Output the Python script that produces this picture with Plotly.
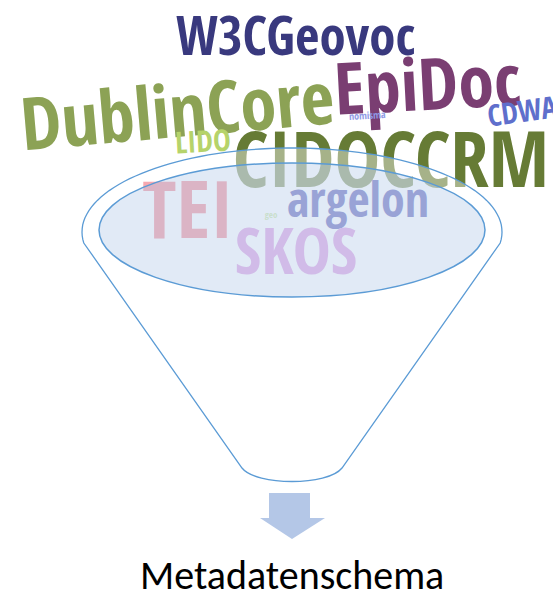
import numpy as np
import plotly.graph_objects as go

# ---- word cloud data ----
words = ["W3CGeovoc", "EpiDoc", "DublinCore", "CDWA", "CIDOCCRM", "LIDO",
         "nomisma", "TEI", "argelon", "SKOS", "geo"]
weights = [53, 72, 73, 30, 77, 30, 10, 79, 48, 64, 9]
word_colors = ["#39397e", "#7a3e72", "#8ca255", "#5f6fcc", "#667b35", "#b6d36a",
               "#8f9ae6", "#f06a78", "#3a3ca5", "#d27fd8", "#bde08a"]
# layout of the cloud (pixel coordinates of the word centres) and angles
word_x = [295, 427, 177, 522, 391, 203, 367, 188, 358, 296, 271]
word_y = [34, 82, 108, 110, 168, 140, 115, 218, 205, 258, 216]
word_angle = [0, -3, -5, -8, 0, -3, -3, 0, 0, 0, 0]
# words that sit inside the funnel (drawn under the semi-transparent funnel)
inside = ["CIDOCCRM", "TEI", "argelon", "SKOS", "geo"]

caption = "Metadatenschema"

W, H = 553, 595
CLOUD_FONT = "Open Sans Condensed, Roboto Condensed, DejaVu Sans Condensed, sans-serif"

fig = go.Figure()
annotations = []
for w, s, c, x, y, a in zip(words, weights, word_colors, word_x, word_y, word_angle):
    if w in inside:
        fig.add_trace(go.Scatter(
            x=[x], y=[y], mode="text", text=[w], textposition="middle center",
            textfont=dict(family=CLOUD_FONT, size=s, color=c, weight="bold"),
            hoverinfo="skip", showlegend=False))
    else:
        annotations.append(dict(
            x=x, y=y, xref="x", yref="y", text=w, showarrow=False, textangle=a,
            xanchor="center", yanchor="middle",
            font=dict(family=CLOUD_FONT, size=s, color=c, weight="bold")))

annotations.append(dict(
    x=292, y=575, xref="x", yref="y", text=caption, showarrow=False,
    xanchor="center", yanchor="middle",
    font=dict(family="Carlito, Calibri, Lato, sans-serif", size=40, color="#000000")))

# ---- funnel outline ----
cx, cy, rx, ry = 292, 232, 210, 84
t0 = np.arcsin(11 / ry)
ts = np.linspace(np.pi + t0, -t0, 80)
pts = [(cx + rx * np.cos(t), cy - ry * np.sin(t)) for t in ts]
path = "M " + " L ".join(f"{px:.1f},{py:.1f}" for px, py in pts)
path += " L 342,468 C 328,486 256,486 242,468 Z"

shapes = [
    dict(type="path", path=path, xref="x", yref="y",
         line=dict(color="#5b9bd5", width=1.3), fillcolor="rgba(255,255,255,0.42)",
         layer="above"),
    dict(type="circle", x0=99, x1=485, y0=163, y1=297, xref="x", yref="y",
         line=dict(color="#5b9bd5", width=1.5), fillcolor="rgba(175,200,232,0.38)",
         layer="above"),
    dict(type="path",
         path="M 269,493 L 310,493 L 310,518 L 325,518 L 292,539 L 260,518 L 269,518 Z",
         xref="x", yref="y", line=dict(width=0), fillcolor="#b4c7e7", layer="above"),
]

fig.update_layout(
    width=W, height=H, margin=dict(l=0, r=0, t=0, b=0),
    paper_bgcolor="white", plot_bgcolor="white",
    xaxis=dict(range=[0, W], visible=False, fixedrange=True),
    yaxis=dict(range=[H, 0], visible=False, fixedrange=True),
    shapes=shapes, annotations=annotations, showlegend=False,
)
fig.write_html("out.html", config={"displayModeBar": False},
               post_script="document.body.style.margin='0';")
